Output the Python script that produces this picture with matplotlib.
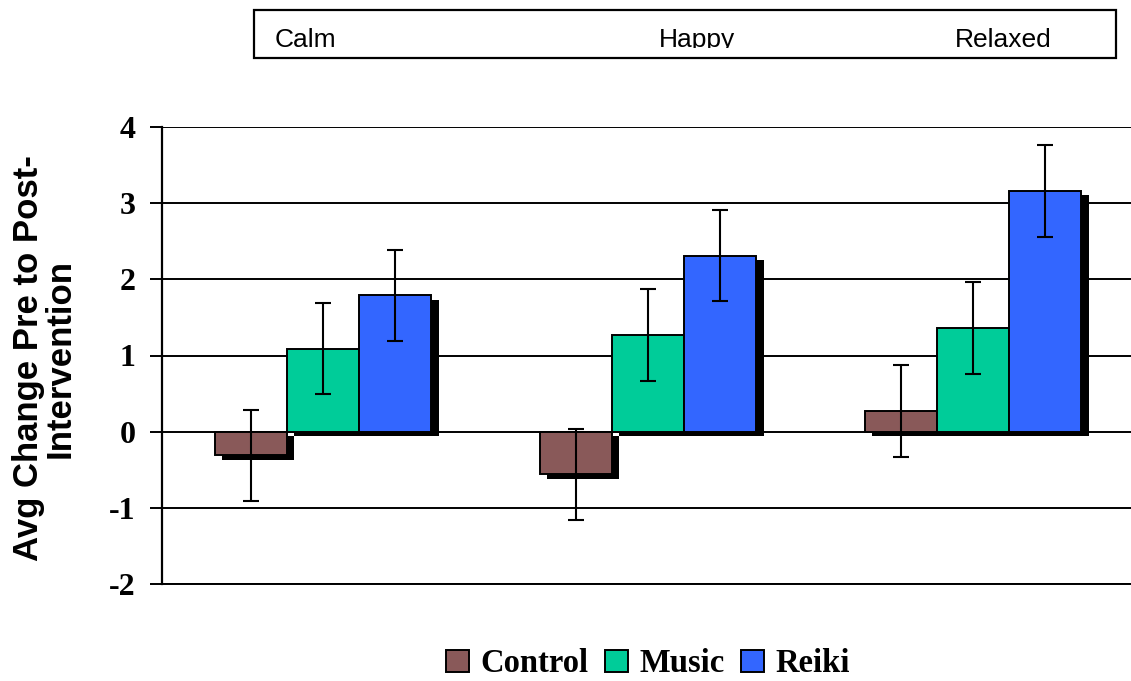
import matplotlib
matplotlib.use("Agg")
import matplotlib.pyplot as plt
import matplotlib.patheffects as pe
from matplotlib.transforms import Bbox, TransformedBbox
import numpy as np

categories = ['Calm', 'Happy', 'Relaxed']
series = ['Control', 'Music', 'Reiki']
control = [-0.31, -0.56, 0.27]
music = [1.09, 1.27, 1.36]
reiki = [1.79, 2.31, 3.16]
control_err = [0.6, 0.6, 0.6]
music_err = [0.6, 0.6, 0.6]
reiki_err = [0.6, 0.6, 0.6]
colors = ['#895959', '#00CC99', '#3366FF']
yticks = [-2, -1, 0, 1, 2, 3, 4]

W, H = 1131, 681
fig = plt.figure(figsize=(W / 100, H / 100), dpi=100)
ax = fig.add_axes([162 / W, 1 - 584 / H, (W - 162) / W, (584 - 127) / H])

x = np.arange(len(categories))
width = 0.222
shadow = [pe.SimplePatchShadow(offset=(5.4, -3.2), shadow_rgbFace='black', alpha=1.0), pe.Normal()]

vals = [control, music, reiki]
errs = [control_err, music_err, reiki_err]
for i, (name, v, e) in enumerate(zip(series, vals, errs)):
    xs = x + (i - 1) * width
    bars = ax.bar(xs, v, width, color=colors[i], edgecolor='black', linewidth=1.4,
                  label=name, zorder=2)
    for b in bars:
        b.set_path_effects(shadow)
    ax.errorbar(xs, v, yerr=e, fmt='none', ecolor='black', elinewidth=1.5,
                capsize=6, capthick=1.5, zorder=4)

ax.set_xlim(-0.495, 2.486)
ax.set_ylim(-2, 4)
ax.set_yticks(yticks)
ax.set_yticklabels([str(t) for t in yticks], fontfamily='Liberation Serif',
                   fontweight='bold', fontsize=23)
ax.set_xticks([])
ax.yaxis.grid(True, color='black', linewidth=1.4)
ax.set_axisbelow(True)
for s in ['top', 'right']:
    ax.spines[s].set_visible(False)
ax.spines['left'].set_linewidth(1.6)
ax.spines['bottom'].set_linewidth(1.4)
ax.tick_params(axis='y', length=9, width=1.4, pad=10)

fig.text(44 / W, 1 - 358 / H, 'Avg Change Pre to Post-\nIntervention', rotation=90,
         ha='center', va='center', multialignment='center', fontfamily='Liberation Sans',
         fontweight='bold', fontsize=25, linespacing=0.95)

# category box at the top
box = plt.Rectangle((254 / W, 1 - 58 / H), (1116 - 254) / W, 48 / H, transform=fig.transFigure,
                    fill=False, edgecolor='black', linewidth=1.6)
fig.add_artist(box)
clip = TransformedBbox(Bbox.from_extents(0, 1 - 47.5 / H, 1, 1), fig.transFigure)
for cat, px in zip(categories, [275, 659, 955]):
    t = fig.text(px / W, 1 - 47 / H, cat, ha='left', va='baseline',
                 fontfamily='Liberation Sans', fontsize=19)
    t.set_clip_box(clip)
    t.set_clip_on(True)

leg = fig.legend(loc='center', bbox_to_anchor=(648 / W, 1 - 664 / H), ncol=3, frameon=False,
                 prop={'family': 'Liberation Serif', 'weight': 'bold', 'size': 23.5},
                 handlelength=0.7, handleheight=0.68, handletextpad=0.34,
                 columnspacing=0.52, borderpad=0, borderaxespad=0)
for h in leg.legend_handles:
    h.set_path_effects([])
    h.set_linewidth(1.4)

fig.savefig('out.png', dpi=100)
